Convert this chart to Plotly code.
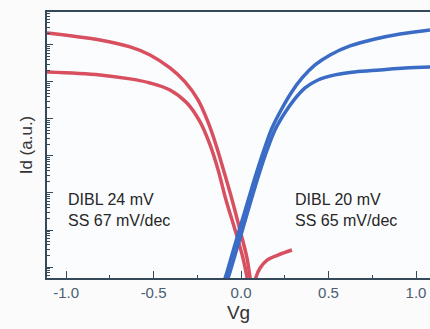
import plotly.graph_objects as go

# ---- data (Vg in V, Id in arbitrary units) ----
vg_p_high = [-1.109, -0.806, -0.634, -0.52, -0.406, -0.32, -0.246, -0.189, -0.143, -0.097, -0.051, -0.006, 0.034, 0.051, 0.063]
id_p_high = [2.11e-6, 1.36e-6, 8.83e-7, 5.37e-7, 2.39e-7, 1.0e-7, 3.27e-8, 8.3e-9, 1.98e-9, 3.7e-10, 6.47e-11, 1.0e-11, 1.75e-12, 5.4e-13, 2.4e-13]

vg_p_low = [-1.109, -0.806, -0.634, -0.52, -0.406, -0.309, -0.234, -0.177, -0.131, -0.086, -0.034, 0.011, 0.034, 0.046]
id_p_low = [1.86e-7, 1.55e-7, 1.21e-7, 9.4e-8, 6.08e-8, 2.7e-8, 8.3e-9, 1.98e-9, 4.19e-10, 6.47e-11, 1.0e-11, 1.75e-12, 5.4e-13, 2.4e-13]

vg_p_tail = [0.074, 0.086, 0.109, 0.149, 0.211, 0.291]
id_p_tail = [2.4e-13, 5.4e-13, 9.4e-13, 1.54e-12, 2.11e-12, 2.88e-12]

vg_n_high = [-0.114, -0.091, -0.029, 0.034, 0.086, 0.131, 0.177, 0.229, 0.286, 0.349, 0.423, 0.509, 0.623, 0.766, 0.909, 1.08]
id_n_high = [2.4e-13, 5.0e-13, 5.0e-12, 5.0e-11, 3.27e-10, 1.45e-9, 5.71e-9, 1.75e-8, 5.05e-8, 1.28e-7, 2.88e-7, 5.37e-7, 9.4e-7, 1.45e-6, 1.98e-6, 2.54e-6]

vg_n_low = [-0.097, -0.074, -0.011, 0.051, 0.103, 0.149, 0.194, 0.246, 0.303, 0.366, 0.44, 0.537, 0.651, 0.794, 0.937, 1.08]
id_n_low = [2.4e-13, 5.0e-13, 5.0e-12, 5.0e-11, 3.27e-10, 1.45e-9, 5.05e-9, 1.36e-8, 3.27e-8, 6.9e-8, 1.13e-7, 1.55e-7, 1.86e-7, 2.11e-7, 2.39e-7, 2.54e-7]

x_tick_vals = [-1.0, -0.5, 0.0, 0.5, 1.0]
x_tick_text = ["-1.0", "-0.5", "0.0", "0.5", "1.0"]
x_minor_vals = [-0.75, -0.25, 0.25, 0.75]
y_decades = [1e-12, 1e-11, 1e-10, 1e-9, 1e-8, 1e-7, 1e-6]

left_note = "DIBL 24 mV<br>SS 67 mV/dec"
right_note = "DIBL 20 mV<br>SS 65 mV/dec"
x_title = "Vg"
y_title = "Id (a.u.)"

RED = "#d8505f"
BLUE = "#3a6cc6"
AXIS = "#34495a"

y_minor_vals = [m * d for d in [1e-13] + y_decades for m in range(2, 10)]

fig = go.Figure()
for xs, ys, c in [(vg_p_high, id_p_high, RED), (vg_p_low, id_p_low, RED), (vg_p_tail, id_p_tail, RED),
                  (vg_n_high, id_n_high, BLUE), (vg_n_low, id_n_low, BLUE)]:
    fig.add_trace(go.Scatter(x=xs, y=ys, mode="lines",
                             line=dict(color=c, width=3.5, shape="spline", smoothing=1.0),
                             showlegend=False, hoverinfo="skip"))

fig.add_annotation(x=-1.0, y=-10.45, xref="x", yref="y", text=left_note, showarrow=False,
                   xanchor="left", yanchor="middle", align="left",
                   font=dict(family="Liberation Sans, Arial", size=16, color="#262626"))
fig.add_annotation(x=0.297, y=-10.45, xref="x", yref="y", text=right_note, showarrow=False,
                   xanchor="left", yanchor="middle", align="left",
                   font=dict(family="Liberation Sans, Arial", size=16, color="#262626"))

fig.update_layout(
    width=430, height=329,
    margin=dict(l=47, r=0, t=12, b=51),
    paper_bgcolor="#fbfbfc", plot_bgcolor="#fbfcfe",
    font=dict(family="Liberation Sans, Arial"),
    xaxis=dict(range=[-1.109, 1.08], showgrid=False, zeroline=False,
               showline=True, linecolor=AXIS, linewidth=1.5, mirror=True,
               ticks="inside", ticklen=7, tickwidth=1.3, tickcolor=AXIS,
               tickvals=x_tick_vals, ticktext=x_tick_text,
               tickfont=dict(size=15, color="#4b5d70"),
               minor=dict(tickvals=x_minor_vals, ticks="inside", ticklen=3, tickwidth=1.3, tickcolor=AXIS),
               title=dict(text=x_title, font=dict(size=19, color="#333333"), standoff=6)),
    yaxis=dict(type="log", range=[-12.297, -5.11], showgrid=False, zeroline=False,
               showline=True, linecolor=AXIS, linewidth=1.5,
               ticks="inside", ticklen=6, tickwidth=1.3, tickcolor=AXIS,
               tickvals=y_decades, showticklabels=False,
               minor=dict(tickvals=y_minor_vals, ticks="inside", ticklen=3, tickwidth=1, tickcolor=AXIS),
               title=dict(text=y_title, font=dict(size=17, color="#333333"), standoff=8)),
)

fig.write_html("out.html", config={"displayModeBar": False},
               post_script="document.body.style.margin='0';document.body.style.overflow='hidden';")
